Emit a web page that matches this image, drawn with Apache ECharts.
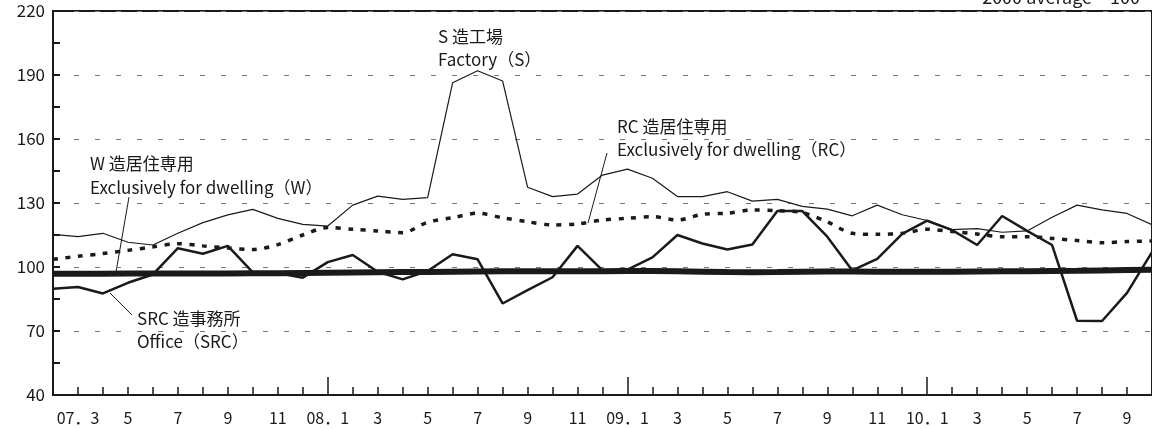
<!DOCTYPE html>
<html>
<head>
<meta charset="utf-8">
<script src="https://cdn.jsdelivr.net/npm/echarts@6/dist/echarts.min.js"></script>
<style>
  html, body { margin: 0; padding: 0; background: #fff; }
  #chart { width: 1152px; height: 429px; }
</style>
</head>
<body>
<div id="chart"></div>
<script>
// 年月（07.2 〜 10.10）
var months = [
  "07.2", "07.3", "07.4", "07.5", "07.6", "07.7", "07.8", "07.9", "07.10", "07.11", "07.12",
  "08.1", "08.2", "08.3", "08.4", "08.5", "08.6", "08.7", "08.8", "08.9", "08.10", "08.11", "08.12",
  "09.1", "09.2", "09.3", "09.4", "09.5", "09.6", "09.7", "09.8", "09.9", "09.10", "09.11", "09.12",
  "10.1", "10.2", "10.3", "10.4", "10.5", "10.6", "10.7", "10.8", "10.9", "10.10"
];
// S造工場 Factory (S)
var factoryS = [
  115.3, 114.2, 115.8, 111.6, 110.3, 115.8, 120.8, 124.4, 127.0, 122.8, 120.0,
  119.2, 129.0, 133.2, 131.7, 132.5, 186.4, 192.0, 187.2, 137.4, 133.0, 134.2, 143.1,
  145.9, 141.6, 133.0, 133.0, 135.3, 130.9, 131.7, 128.4, 127.1, 124.0, 129.0, 124.5,
  121.8, 117.5, 118.0, 116.3, 116.9, 123.3, 129.0, 126.8, 125.1, 119.8
];
// RC造居住専用 Exclusively for dwelling (RC)
var dwellingRC = [
  103.6, 105.0, 106.3, 107.8, 109.4, 110.9, 109.9, 108.9, 108.2, 110.5, 115.0,
  118.5, 117.7, 116.9, 116.1, 121.0, 123.1, 125.2, 123.1, 121.2, 119.7, 120.2, 122.0,
  122.8, 123.6, 122.0, 124.7, 125.2, 126.7, 126.4, 125.5, 121.2, 115.8, 115.3, 115.8,
  117.7, 116.6, 115.5, 114.2, 114.2, 113.4, 112.4, 111.4, 111.9, 112.2
];
// W造居住専用 Exclusively for dwelling (W)
var dwellingW = [
  96.8, 96.8, 96.8, 96.9, 96.9, 97.0, 97.0, 97.0, 97.1, 97.1, 97.2,
  97.3, 97.4, 97.5, 97.6, 97.7, 97.8, 97.9, 98.0, 98.0, 98.0, 98.0, 98.0,
  98.1, 98.1, 98.0, 97.8, 97.6, 97.5, 97.6, 97.8, 97.9, 97.9, 97.8, 97.8,
  97.8, 97.8, 97.9, 98.0, 98.0, 98.1, 98.2, 98.4, 98.6, 98.7
];
// SRC造事務所 Office (SRC)
var officeSRC = [
  89.8, 90.6, 87.6, 92.6, 96.5, 108.8, 106.2, 109.9, 97.5, 97.2, 95.0,
  102.3, 105.6, 97.8, 94.2, 98.1, 106.0, 103.6, 82.9, 89.2, 95.2, 109.9, 98.4,
  98.8, 104.5, 115.0, 111.0, 108.2, 110.5, 126.2, 126.2, 114.2, 98.4, 103.8, 115.5,
  121.7, 117.3, 110.3, 123.9, 116.9, 110.3, 74.8, 74.7, 87.9, 107.0
];

var fontCJK = '"Noto Sans CJK JP", "Noto Sans", sans-serif';
var ink = "#1a1a1a";

function monthOf(v) {
  return parseInt(v.split(".")[1], 10);
}

var chart = echarts.init(document.getElementById("chart"));

function lineSeries(name, data, width, type) {
  return {
    name: name,
    type: "line",
    xAxisIndex: 0,
    yAxisIndex: 0,
    data: data,
    symbol: "none",
    silent: true,
    animation: false,
    lineStyle: { color: ink, width: width, type: type || "solid" }
  };
}

function label(text, x, y) {
  return {
    type: "text",
    x: x,
    y: y,
    silent: true,
    style: { text: text, fill: ink, font: "17px " + fontCJK, verticalAlign: "middle" }
  };
}

function leader(x1, y1, x2, y2) {
  return {
    type: "line",
    silent: true,
    shape: { x1: x1, y1: y1, x2: x2, y2: y2 },
    style: { stroke: ink, lineWidth: 1 }
  };
}

var option = {
  animation: false,
  backgroundColor: "#fff",
  grid: {
    left: 53,
    top: 11,
    right: -5,
    bottom: 34,
    show: true,
    borderColor: ink,
    borderWidth: 2
  },
  xAxis: [
    {
      type: "category",
      data: months,
      boundaryGap: false,
      position: "bottom",
      axisLine: { lineStyle: { color: ink, width: 2 } },
      axisTick: { inside: true, length: 8, interval: 0, lineStyle: { color: ink, width: 1.5 } },
      axisLabel: {
        interval: function (idx, v) { return monthOf(v) % 2 === 1; },
        formatter: function (v, idx) {
          var m = monthOf(v);
          if (idx === 1 || m === 1) return v.replace(".", "．");
          return String(m);
        },
        color: ink,
        fontSize: 16,
        fontFamily: fontCJK,
        margin: 15
      },
      splitLine: { show: false }
    },
    {
      type: "category",
      data: months,
      boundaryGap: false,
      position: "bottom",
      offset: 0,
      axisLine: { show: false },
      axisTick: {
        inside: true,
        length: 18,
        interval: function (idx, v) { return monthOf(v) === 1; },
        lineStyle: { color: ink, width: 1.5 }
      },
      axisLabel: { show: false },
      splitLine: { show: false }
    }
  ],
  yAxis: [
    {
      type: "value",
      min: 40,
      max: 220,
      interval: 30,
      position: "left",
      axisLine: { show: true, lineStyle: { color: ink, width: 2 } },
      axisTick: { show: false },
      axisLabel: { color: ink, fontSize: 17, fontFamily: fontCJK, margin: 8 },
      splitLine: { show: true, lineStyle: { color: "#777", width: 1, type: [5, 16] } }
    },
    {
      type: "value",
      min: 40,
      max: 220,
      interval: 15,
      position: "left",
      offset: 0,
      axisLine: { show: false },
      axisTick: { show: true, inside: true, length: 7, lineStyle: { color: ink, width: 2 } },
      axisLabel: { show: false },
      splitLine: { show: false }
    }
  ],
  series: [
    lineSeries("S造工場", factoryS, 1.2),
    Object.assign(lineSeries("RC造居住専用", dwellingRC, 3.5, [5, 7.5]), { smooth: 0.3 }),
    lineSeries("W造居住専用", dwellingW, 6),
    lineSeries("SRC造事務所", officeSRC, 2.5)
  ],
  graphic: [
    label("W 造居住専用", 90, 164),
    label("Exclusively for dwelling（W）", 90, 188),
    leader(129, 197, 116, 272),
    label("SRC 造事務所", 137, 319),
    label("Office（SRC）", 137, 342),
    leader(110, 293, 132, 315),
    label("S 造工場", 438, 37),
    label("Factory（S）", 438, 60),
    label("RC 造居住専用", 617, 127),
    label("Exclusively for dwelling（RC）", 617, 150),
    leader(607, 153, 588, 223),
    {
      type: "text",
      x: 1140,
      y: 6,
      silent: true,
      style: {
        text: "2000 average＝100",
        fill: ink,
        font: "18px " + fontCJK,
        align: "right",
        verticalAlign: "bottom"
      }
    }
  ]
};

chart.setOption(option);
</script>
</body>
</html>
